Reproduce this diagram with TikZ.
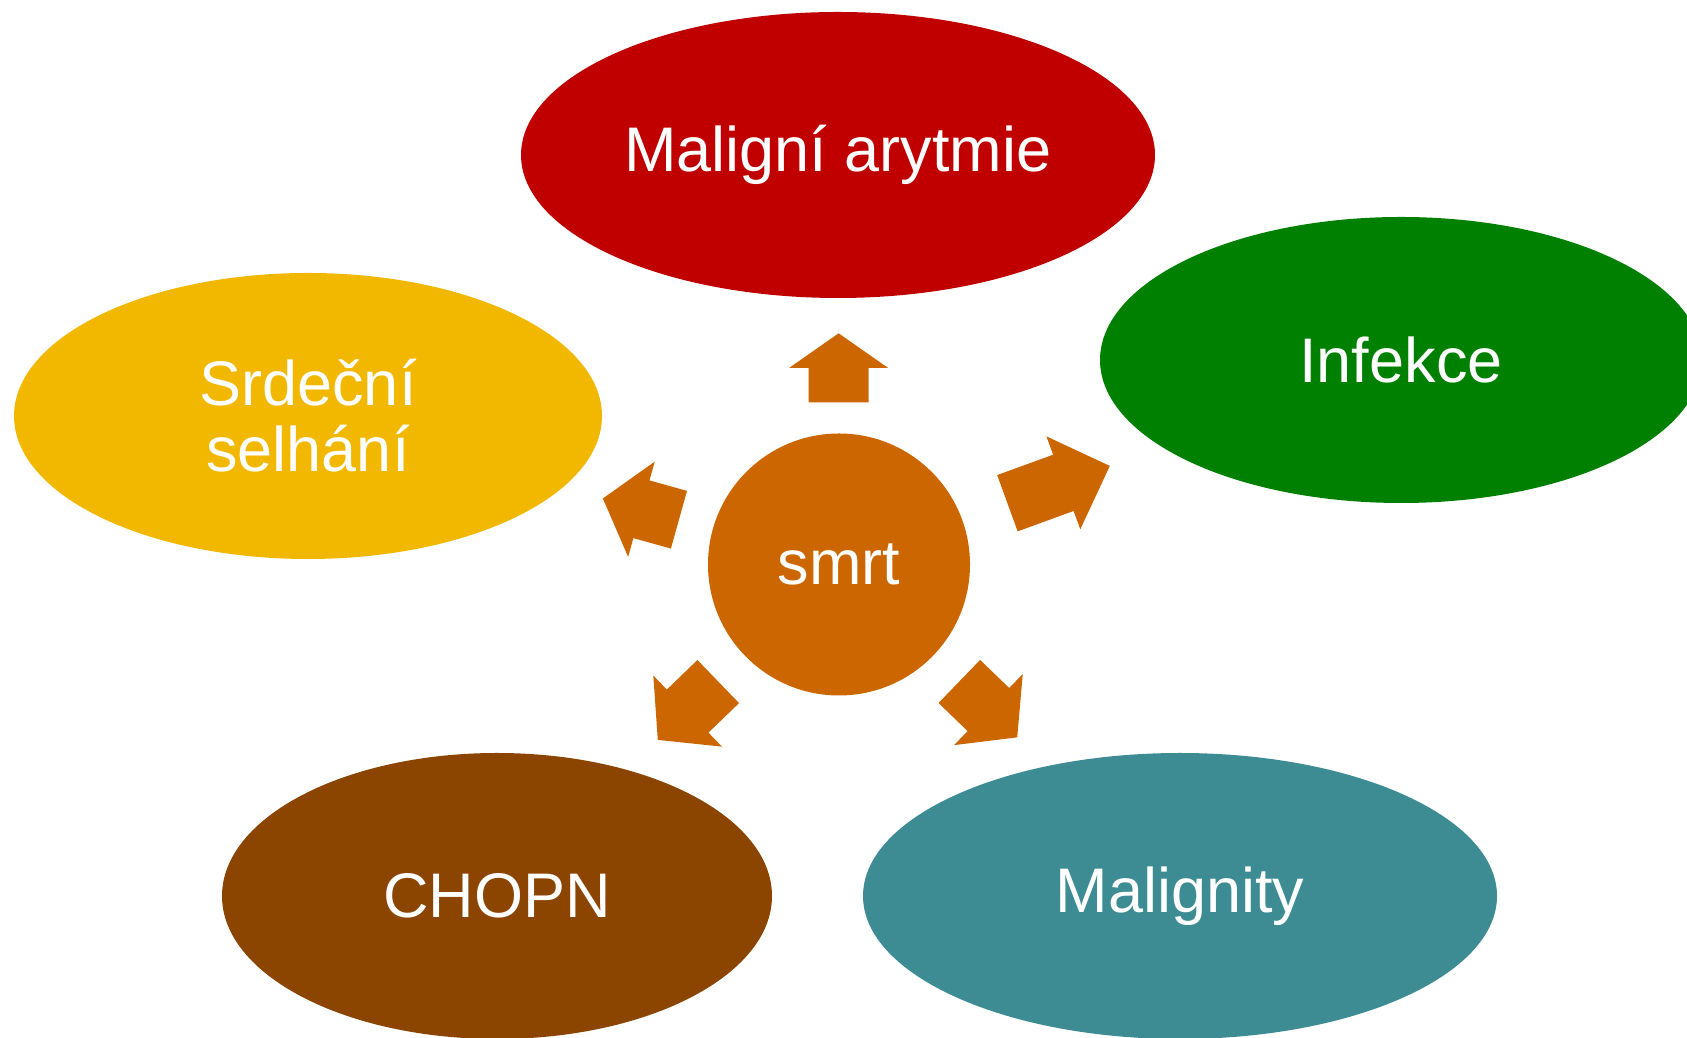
\documentclass[tikz,border=0pt]{standalone}
\usepackage{fontspec}
\setmainfont{Liberation Sans}
\usetikzlibrary{shapes.geometric, shapes.arrows, calc}
\definecolor{arytmie}{HTML}{C00000}
\definecolor{infekce}{HTML}{008000}
\definecolor{selhani}{HTML}{F2B800}
\definecolor{chopn}{HTML}{8B4500}
\definecolor{malig}{HTML}{3D8C93}
\definecolor{smrtcol}{HTML}{CC6600}

\begin{document}
\begin{tikzpicture}[x=1pt, y=1pt, align=center,
    bubble/.style={ellipse, inner sep=0pt, text=white, font=\fontsize{63}{66}\selectfont},
    spoke/.style={single arrow, anchor=tail, fill=smrtcol, inner xsep=0pt, inner ysep=29.75pt,
      single arrow head extend=19.5pt, single arrow head indent=0pt}]
      \clip (0,0) rectangle (1687,1038);
      % causes
      \node[bubble, fill=arytmie, minimum width=634pt, minimum height=286pt] (mal) at (838,883) {Maligní arytmie};
      \node[bubble, fill=infekce, minimum width=602pt, minimum height=286pt] (inf) at (1401,678) {Infekce};
      \node[bubble, fill=selhani, minimum width=588pt, minimum height=286pt] (srd) at (308,622) {Srdeční\\selhání};
      \node[bubble, fill=chopn, minimum width=550pt, minimum height=286pt] (cho) at (497,142) {CHOPN};
      \node[bubble, fill=malig, minimum width=634pt, minimum height=286pt] (mgn) at (1180,142) {Malignity};
      %
      \node[bubble, circle, fill=smrtcol, minimum size=262pt] (smrt) at (839,473.5) {smrt};
      % spokes
      \node[spoke, rotate=90, minimum height=69pt, single arrow tip angle=110] (s1) at ($(smrt.center)!162pt!(mal.center)$) {};
      \node[spoke, rotate=20, minimum height=109pt, single arrow tip angle=90] (s2) at ($(smrt.center)!179pt!(inf.center)$) {};
      \node[spoke, rotate=164.4, minimum height=79pt, single arrow tip angle=102] (s3) at ($(smrt.center)!166pt!(srd.center)$) {};
      \node[spoke, rotate=224, minimum height=84pt, single arrow tip angle=100] (s4) at ($(smrt.center)!168pt!(cho.center)$) {};
      \node[spoke, rotate=316, minimum height=80.5pt, single arrow tip angle=102] (s5) at ($(smrt.center)!167.6pt!(mgn.center)$) {};
    \end{tikzpicture}
\end{document}
